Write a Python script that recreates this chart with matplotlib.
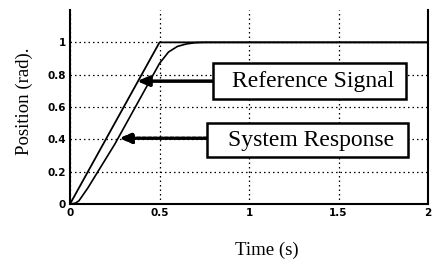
import matplotlib
matplotlib.use("Agg")
import matplotlib.pyplot as plt
from matplotlib.patches import Rectangle

# Data
ref_t = [0.0, 0.5, 2.0]
ref_y = [0.0, 1.0, 1.0]

resp_t = [0.0, 0.03, 0.05, 0.1, 0.15, 0.2, 0.25, 0.3, 0.35, 0.4, 0.45,
          0.5, 0.55, 0.6, 0.65, 0.7, 0.75, 2.0]
resp_y = [0.0, 0.005, 0.02, 0.1, 0.19, 0.28, 0.37, 0.47, 0.57, 0.67, 0.77,
          0.87, 0.94, 0.975, 0.99, 0.998, 1.0, 1.0]

x_ticks = [0, 0.5, 1, 1.5, 2]
x_tick_labels = ["0", "0.5", "1", "1.5", "2"]
y_ticks = [0, 0.2, 0.4, 0.6, 0.8, 1]
y_tick_labels = ["0", "0.2", "0.4", "0.6", "0.8", "1"]

labels = ["Reference Signal", "System Response"]
label_pos = [(0.905, 0.76), (0.883, 0.395)]
box_extent = [(0.799, 0.648, 1.078, 0.222), (0.765, 0.290, 1.123, 0.210)]
arrow_tips = [(0.374, 0.76), (0.274, 0.407)]
arrow_starts = [(0.80, 0.76), (0.765, 0.407)]
arrow_styles = ["solid", (0, (1.0, 0.6))]

fig = plt.figure(figsize=(4.39, 2.64), dpi=100)
ax = fig.add_axes([0.1595, 0.2273, 0.8155, 0.7347])

ax.plot(ref_t, ref_y, color="black", lw=1.3)
ax.plot(resp_t, resp_y, color="black", lw=1.2)

ax.set_xlim(0, 2)
ax.set_ylim(0, 1.2)
ax.set_xticks(x_ticks)
ax.set_xticklabels(x_tick_labels)
ax.set_yticks(y_ticks)
ax.set_yticklabels(y_tick_labels)
ax.tick_params(length=0, labelsize=7.5, pad=3)
for lab in ax.get_xticklabels() + ax.get_yticklabels():
    lab.set_fontweight("bold")
    lab.set_family("DejaVu Sans")

ax.grid(True, color="black", linestyle=(0, (1.2, 2.4)), linewidth=0.9)
ax.spines["top"].set_visible(False)
for s in ["left", "right", "bottom"]:
    ax.spines[s].set_linewidth(1.5)

fig.text(267 / 439, 1 - 250 / 264, "Time (s)", family="Liberation Serif",
         fontsize=13.5, ha="center", va="center")
fig.text(24 / 439, 1 - 101 / 264, "Position (rad).", family="Liberation Serif",
         fontsize=13.5, ha="center", va="center", rotation=90)

for lab, pos, ext, tip, start, ls in zip(labels, label_pos, box_extent,
                                         arrow_tips, arrow_starts, arrow_styles):
    ax.annotate("", xy=tip, xytext=start,
                arrowprops=dict(arrowstyle="-|>,head_length=0.7,head_width=0.3",
                                color="black", lw=2.5, linestyle=ls,
                                shrinkA=0, shrinkB=0))
    ax.add_patch(Rectangle((ext[0], ext[1]), ext[2], ext[3], fc="white",
                           ec="black", lw=1.8, zorder=4))
    ax.text(pos[0], pos[1], lab, family="Liberation Serif", fontsize=17,
            ha="left", va="center", zorder=5)

fig.savefig("out.png", dpi=100)
